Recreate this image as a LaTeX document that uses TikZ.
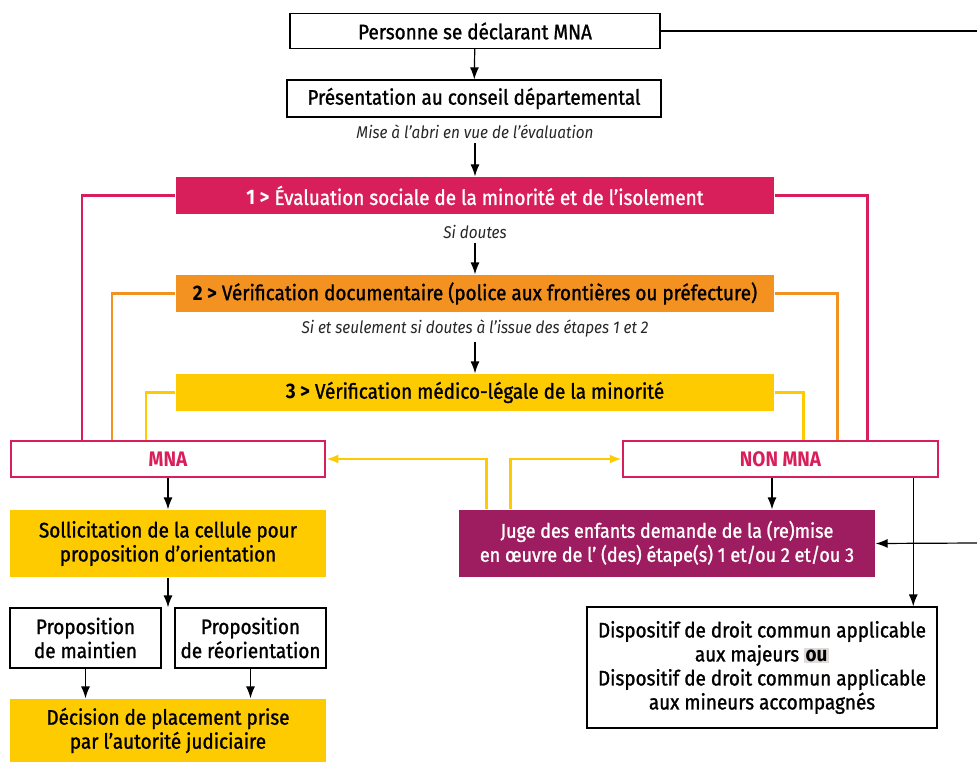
\documentclass[tikz,border=0pt]{standalone}
\usepackage{fontspec}
\setmainfont{Fira Sans}[FakeStretch=0.9, UprightFeatures={FakeBold=1.2}]
\usetikzlibrary{arrows.meta}
\definecolor{rose}{HTML}{D81E5B}
\definecolor{orange}{HTML}{F39221}
\definecolor{jaune}{HTML}{FECB00}
\definecolor{prune}{HTML}{9E1C60}
\definecolor{surligne}{HTML}{E2DADA}
\begin{document}
\begin{tikzpicture}[x=1pt, y=-1pt, line width=1.2pt, >={Latex[length=12pt,width=9pt]},
        font=\fontsize{21}{24}\selectfont,
        main/.style = {draw, fill=white, align=center, inner sep=0pt},
        etape/.style = {align=center, inner sep=0pt, minimum width=598pt, minimum height=37pt},
        verdict/.style = {draw=rose, line width=2.5pt, text=rose, font=\fontsize{21}{24}\selectfont\bfseries, minimum width=314pt, minimum height=36pt, inner sep=0pt},
        jaunebox/.style = {fill=jaune, align=center, inner sep=0pt, minimum width=316pt},
        note/.style = {font=\fontsize{17}{20}\selectfont\itshape, text=black!85},
        lien/.style = {line width=2.5pt}]

        \useasboundingbox (0,0) rectangle (977,762);

        \node[main, minimum width=370pt, minimum height=35pt] (1) at (475,31) {Personne se déclarant MNA};
        \node[main, minimum width=374pt, minimum height=37pt] (2) at (474,98.5) {Présentation au conseil départemental};
        \node[note] (n1) at (475,132) {Mise à l’abri en vue de l’évaluation};
        \node[etape, fill=rose, text=white] (3) at (475,195.5) {\textbf{1 >} Évaluation sociale de la minorité et de l’isolement};
        \node[note] (n2) at (475,232) {Si doutes};
        \node[etape, fill=orange] (4) at (475,293.5) {\textbf{2 >} Vérification documentaire (police aux frontières ou préfecture)};
        \node[note] (n3) at (475,329) {Si et seulement si doutes à l’issue des étapes 1 et 2};
        \node[etape, fill=jaune] (5) at (475,392.5) {\textbf{3 >} Vérification médico-légale de la minorité};

        \node[verdict] (6) at (168,459) {MNA};
        \node[verdict, minimum width=315pt] (7) at (780.5,459) {NON MNA};

        \node[jaunebox, minimum height=67pt] (8) at (168,543.5) {Sollicitation de la cellule pour\\proposition d’orientation};
        \node[main, minimum width=151pt, minimum height=60pt] (9) at (85.5,638) {Proposition\\de maintien};
        \node[main, minimum width=151pt, minimum height=60pt] (10) at (250.5,638) {Proposition\\de réorientation};
        \node[jaunebox, minimum height=63pt] (11) at (168,730.5) {Décision de placement prise\\par l’autorité judiciaire};

        \node[fill=prune, text=white, align=center, inner sep=0pt, minimum width=416pt, minimum height=67pt,
              font=\fontsize{20}{24}\selectfont] (12) at (667,543.5)
            {Juge des enfants demande de la (re)mise\\en œuvre de l’ (des) étape(s) 1 et/ou 2 et/ou 3};
        \node[main, minimum width=350pt, minimum height=121pt] (13) at (762,667.5)
            {Dispositif de droit commun applicable\\aux majeurs {\setlength{\fboxsep}{1.5pt}\colorbox{surligne}{\textbf{ou}}}\\Dispositif de droit commun applicable\\aux mineurs accompagnés};

        \coordinate (e1) at (977,31);
        \coordinate (e2) at (977,543);

        % fil principal
        \draw (1) -- (e1);
        \draw[->] (1) -- (2);
        \draw[->] (n1) -- (3);
        \draw[->] (n2) -- (4);
        \draw[->] (n3) -- (5);

        % retours des etapes
        \draw[lien, rose] (3.west) -| ([xshift=72pt]6.north west);
        \draw[lien, rose] (3.east) -| ([xshift=-72pt]7.north east);
        \draw[lien, orange] (4.west) -| ([xshift=102pt]6.north west);
        \draw[lien, orange] (4.east) -| ([xshift=-102pt]7.north east);
        \draw[lien, jaune] (5.west) -| ([xshift=136pt]6.north west);
        \draw[lien, jaune] (5.east) -| ([xshift=-136pt]7.north east);

        % juge
        \draw[lien, jaune, ->] ([xshift=28pt]12.north west) |- (6.east);
        \draw[lien, jaune, ->] ([xshift=52pt]12.north west) |- (7.west);
        \draw[->] ([xshift=-8.5pt]7.south) -- ([xshift=-8.5pt]7.south |- 12.north);
        \draw[->] ([xshift=-26pt]7.south east) -- ([xshift=-26pt]7.south east |- 13.north);
        \draw[->] (e2) -- (12.east);

        % cote MNA
        \draw[->] (6) -- (8);
        \draw[->] (8) -- (8.south |- 9.north);
        \draw[->] (9) -- (9.south |- 11.north);
        \draw[->] (10) -- (10.south |- 11.north);

    \end{tikzpicture}
\end{document}
